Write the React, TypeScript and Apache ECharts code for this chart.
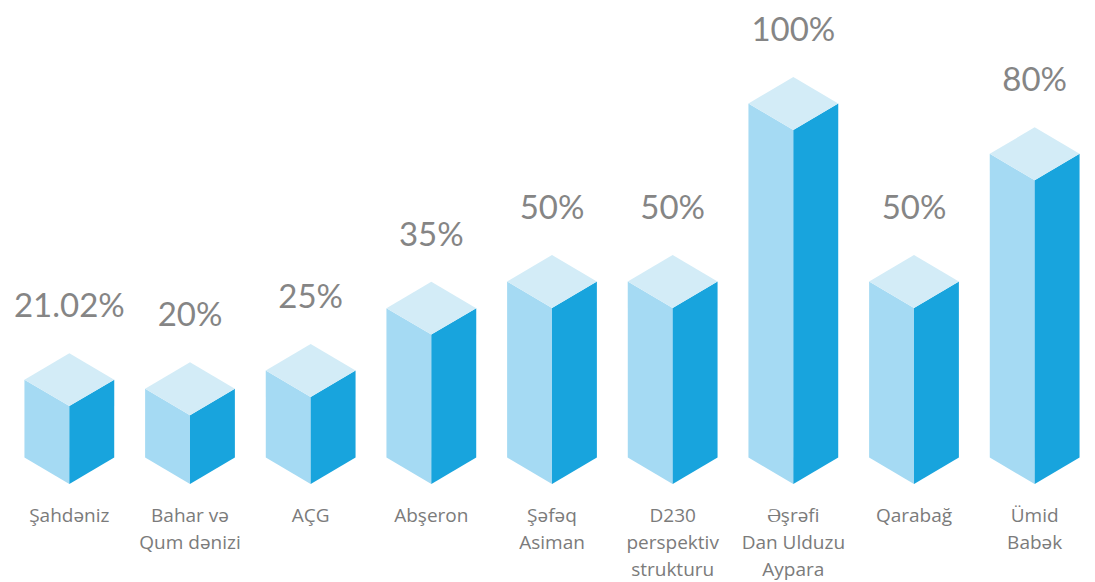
import React, { useEffect, useRef } from "react";
import * as echarts from "echarts";

const categories = [
  "Şahdəniz",
  "Bahar və\nQum dənizi",
  "AÇG",
  "Abşeron",
  "Şəfəq\nAsiman",
  "D230\nperspektiv\nstrukturu",
  "Əşrəfi\nDan Ulduzu\nAypara",
  "Qarabağ",
  "Ümid\nBabək",
];
// percentage shown above each box
const values = [21.02, 20, 25, 35, 50, 50, 100, 50, 80];
// drawn height of each box (tallest box = 100)
const barHeights = [22, 19.4, 24.6, 42.2, 49.7, 49.7, 100, 49.7, 85.8];

const LEFT = "#A5DAF3";
const RIGHT = "#18A4DD";
const TOP = "#D3ECF7";

export default function App() {
  const ref = useRef<HTMLDivElement>(null);
  useEffect(() => {
    if (!ref.current) return;
    const chart = echarts.init(ref.current, undefined, { renderer: "svg" });
    const data = categories.map((_, i) => [i, barHeights[i], values[i]]);
    chart.setOption({
      animation: false,
      backgroundColor: "#ffffff",
      grid: { left: 9, top: 130, width: 1097, height: 363.3 },
      xAxis: {
        type: "category",
        data: categories,
        axisLine: { show: false },
        axisTick: { show: false },
        axisLabel: {
          interval: 0,
          margin: 17,
          fontSize: 19,
          lineHeight: 27,
          color: "#7b7b7b",
          fontFamily: "Open Sans",
        },
      },
      yAxis: { type: "value", min: 0, max: 100, show: false, splitLine: { show: false } },
      series: [
        {
          type: "custom",
          data,
          encode: { x: 0, y: 1 },
          renderItem: (params: any, api: any) => {
            const i = api.value(0);
            const h = api.value(1);
            const v = api.value(2);
            const top = api.coord([i, h]);
            const base = api.coord([i, 0]);
            const band = api.size([1, 0])[0];
            const hw = band * 0.372;
            const dy = hw * 0.59;
            const cx = top[0];
            const yt = top[1];
            const yb = base[1];
            return {
              type: "group",
              children: [
                {
                  type: "polygon",
                  shape: { points: [[cx - hw, yt - dy], [cx, yt], [cx, yb], [cx - hw, yb - dy]] },
                  style: { fill: LEFT },
                },
                {
                  type: "polygon",
                  shape: { points: [[cx, yt], [cx + hw, yt - dy], [cx + hw, yb - dy], [cx, yb]] },
                  style: { fill: RIGHT },
                },
                {
                  type: "polygon",
                  shape: { points: [[cx, yt], [cx - hw, yt - dy], [cx, yt - 2 * dy], [cx + hw, yt - dy]] },
                  style: { fill: TOP },
                },
                {
                  type: "text",
                  x: cx,
                  y: yt - 2 * dy - 38 - 11,
                  style: {
                    text: v + "%",
                    fill: "#858585",
                    fontSize: 33,
                    fontFamily: "Lato",
                    align: "center",
                    verticalAlign: "middle",
                  },
                },
              ],
            };
          },
        },
      ],
    });
    return () => chart.dispose();
  }, []);
  return (
    <div
      ref={ref}
      style={{ position: "fixed", left: 0, top: 0, width: 1095, height: 582 }}
    />
  );
}
